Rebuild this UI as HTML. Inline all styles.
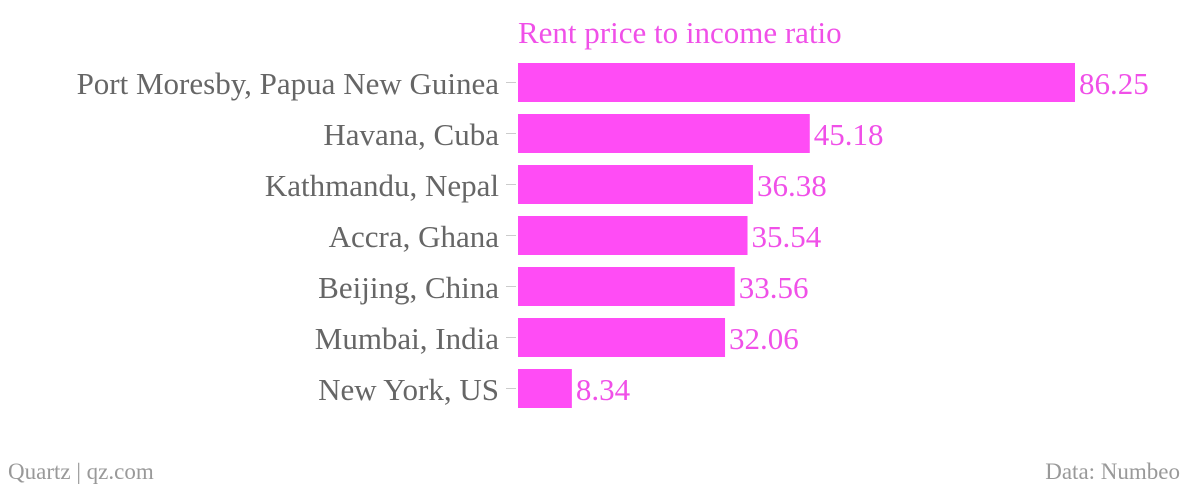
<!DOCTYPE html>
<html><head><meta charset="utf-8"><style>
body{margin:0;background:#fff;width:1200px;height:490px;overflow:hidden;font-family:"Liberation Serif",serif}
</style></head><body>
<svg id="c" width="1200" height="490" xmlns="http://www.w3.org/2000/svg">
<text x="518" y="43" font-size="31" fill="#f050e8">Rent price to income ratio</text>
<text x="8" y="479" font-size="23" fill="#999">Quartz | qz.com</text>
<text x="1180" y="479" font-size="23" fill="#999" text-anchor="end">Data: Numbeo</text>
<g id="bars"></g>
</svg>
<script>
const categories=["Port Moresby, Papua New Guinea","Havana, Cuba","Kathmandu, Nepal","Accra, Ghana","Beijing, China","Mumbai, India","New York, US"];
const values=[86.25,45.18,36.38,35.54,33.56,32.06,8.34];
const labels=["86.25","45.18","36.38","35.54","33.56","32.06","8.34"];
const x0=518,pxPer=(1075-518)/86.25;
const xs=v=>x0+v*pxPer;
const yTop=i=>63+i*51;
const g=document.getElementById('bars');
const NS="http://www.w3.org/2000/svg";
categories.forEach((c,i)=>{
 const r=document.createElementNS(NS,'rect');
 r.setAttribute('x',x0);r.setAttribute('y',yTop(i));
 r.setAttribute('width',xs(values[i])-x0);r.setAttribute('height',39);
 r.setAttribute('fill','#ff4cf5');
 
 
 g.appendChild(r);
 const t=document.createElementNS(NS,'line');
 t.setAttribute('x1',506);t.setAttribute('x2',516);
 t.setAttribute('y1',yTop(i)+19.5);t.setAttribute('y2',yTop(i)+19.5);
 t.setAttribute('stroke','#ccc');t.setAttribute('stroke-width','1');
 
 
 g.appendChild(t);
 const l=document.createElementNS(NS,'text');
 l.setAttribute('x',499);l.setAttribute('y',yTop(i)+31);
 l.setAttribute('text-anchor','end');l.setAttribute('font-size','31');l.setAttribute('fill','#666');
 l.textContent=c;
 
 
 g.appendChild(l);
 const v=document.createElementNS(NS,'text');
 v.setAttribute('x',xs(values[i])+4);v.setAttribute('y',yTop(i)+31);
 v.setAttribute('font-size','31');v.setAttribute('fill','#f050e8');
 v.textContent=labels[i];
 
 
 g.appendChild(v);
});
</script>
</body></html>
